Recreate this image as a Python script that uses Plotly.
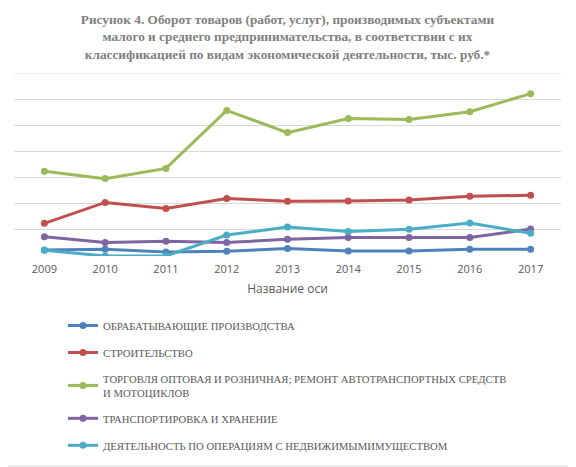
import plotly.graph_objs as go

# данные (в делениях сетки, подписи оси Y скрыты)
years = ['2009', '2010', '2011', '2012', '2013', '2014', '2015', '2016', '2017']

obrabat = [0.23, 0.26, 0.15, 0.18, 0.29, 0.19, 0.19, 0.26, 0.26]
stroit = [1.25, 2.05, 1.82, 2.20, 2.09, 2.10, 2.14, 2.29, 2.32]
torgovlya = [3.24, 2.96, 3.35, 5.57, 4.72, 5.26, 5.22, 5.52, 6.21]
transport = [0.74, 0.52, 0.56, 0.52, 0.64, 0.71, 0.71, 0.71, 1.03]
nedvizh = [0.22, 0.0, 0.0, 0.80, 1.11, 0.94, 1.02, 1.26, 0.87]

names = ['ОБРАБАТЫВАЮЩИЕ ПРОИЗВОДСТВА',
         'СТРОИТЕЛЬСТВО',
         'ТОРГОВЛЯ ОПТОВАЯ И РОЗНИЧНАЯ; РЕМОНТ АВТОТРАНСПОРТНЫХ СРЕДСТВ<br>И МОТОЦИКЛОВ',
         'ТРАНСПОРТИРОВКА И ХРАНЕНИЕ',
         'ДЕЯТЕЛЬНОСТЬ ПО ОПЕРАЦИЯМ С НЕДВИЖИМЫМИМУЩЕСТВОМ']
series = [obrabat, stroit, torgovlya, transport, nedvizh]
colors = ['#4F81BD', '#C0504D', '#9BBB59', '#8064A2', '#4BACC6']

title_text = ('<b>Рисунок 4. Оборот товаров (работ, услуг), производимых субъектами<br>'
              'малого и среднего предпринимательства, в соответствии с их<br>'
              'классификацией по видам экономической деятельности, тыс. руб.*</b>')

y_max = 7  # верхняя линия сетки

fig = go.Figure()
for i in range(len(series)):
    fig.add_trace(go.Scatter(x=years, y=series[i], name=names[i], mode='lines+markers',
                             legendgroup='g' + str(i),
                             line=dict(color=colors[i], width=3),
                             marker=dict(color=colors[i], size=7, symbol='circle')))

# страница сдвигает рисунок на 8px (отступ body), поэтому всё считаем от (8, 8)
OFF = 8
W, H = 576 - OFF, 467 - OFF
L, T = 14 - OFF, 73 - OFF
R = W - (561 - OFF)
B = H - (256 - OFF)
pw = W - L - R
ph = H - T - B


def px_x(x):
    # координата страницы -> доля области построения
    return (x - OFF - L) / pw


def px_y(y):
    return (256 - y) / ph


fig.update_layout(
    width=W, height=H,
    margin=dict(l=L, r=R, t=T, b=B, autoexpand=False),
    paper_bgcolor='white', plot_bgcolor='white',
    title=dict(text=title_text, x=0.5, xref='paper', xanchor='center',
               y=1 - 16 / H, yanchor='top',
               font=dict(family='Liberation Serif', size=13.3, color='#7F7F7F')),
    xaxis=dict(type='category', range=[-0.5, 8.5], showgrid=False, zeroline=False,
               showline=False, ticks='', ticklabelstandoff=5,
               tickfont=dict(family='Open Sans', size=11, color='#595959'),
               title=dict(text='Название оси', standoff=9,
                          font=dict(family='Open Sans', size=12, color='#595959'))),
    yaxis=dict(range=[0, y_max], tick0=0, dtick=1, showticklabels=False, showgrid=True,
               gridcolor='#D9D9D9', gridwidth=1, zeroline=False, showline=False),
    showlegend=True,
    legend=dict(x=px_x(63), xanchor='left', y=px_y(311), yanchor='top',
                tracegroupgap=8, bgcolor='rgba(0,0,0,0)',
                font=dict(family='Liberation Serif', size=10.7, color='#595959')),
    shapes=[dict(type='rect', xref='paper', yref='paper',
                 x0=px_x(1), x1=px_x(575), y0=px_y(466), y1=px_y(1),
                 line=dict(color='#D9D9D9', width=1)),
            # верхняя линия сетки на краю диапазона
            dict(type='line', xref='paper', yref='y', x0=0, x1=1, y0=y_max, y1=y_max,
                 layer='below', line=dict(color='#D9D9D9', width=1))],
)

fig.write_html("out.html")
